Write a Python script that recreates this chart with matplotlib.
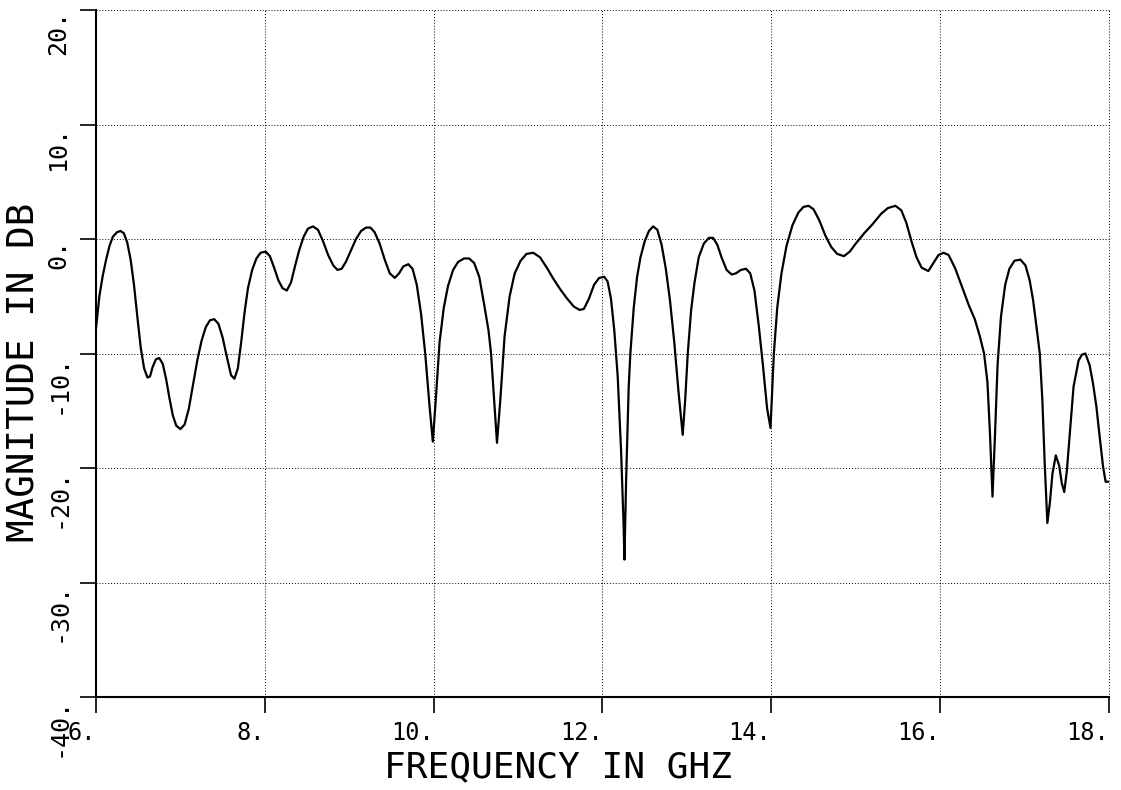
import matplotlib
matplotlib.use("Agg")
import matplotlib.pyplot as plt

# Frequency (GHz) and magnitude (dB)
freq = [6.00, 6.04, 6.08, 6.12, 6.16, 6.20, 6.25, 6.29, 6.33, 6.37, 6.41, 6.45, 6.49, 6.53,
        6.57, 6.61, 6.64, 6.67, 6.71, 6.75, 6.79, 6.83, 6.87, 6.91, 6.95, 7.00, 7.05, 7.10,
        7.15, 7.20, 7.25, 7.30, 7.35, 7.40, 7.45, 7.50, 7.55, 7.60, 7.64, 7.68, 7.72, 7.76,
        7.80, 7.85, 7.90, 7.95, 8.01, 8.06, 8.11, 8.16, 8.21, 8.26, 8.31, 8.36, 8.41, 8.46,
        8.51, 8.57, 8.63, 8.69, 8.75, 8.81, 8.86, 8.91, 8.96, 9.02, 9.08, 9.14, 9.20, 9.25,
        9.30, 9.36, 9.42, 9.48, 9.54, 9.59, 9.64, 9.70, 9.75, 9.80, 9.85, 9.90, 9.95, 9.99,
        10.03, 10.07, 10.12, 10.17, 10.23, 10.29, 10.36, 10.42, 10.48, 10.54, 10.60, 10.65,
        10.68, 10.72, 10.75, 10.79, 10.84, 10.90, 10.96, 11.03, 11.10, 11.18, 11.26, 11.34,
        11.42, 11.50, 11.58, 11.66, 11.73, 11.78, 11.84, 11.90, 11.96, 12.02, 12.06, 12.10,
        12.14, 12.18, 12.22, 12.25, 12.26, 12.28, 12.31, 12.33, 12.37, 12.41, 12.45, 12.50,
        12.55, 12.60, 12.65, 12.70, 12.75, 12.80, 12.85, 12.90, 12.95, 12.98, 13.01, 13.05,
        13.09, 13.14, 13.20, 13.26, 13.31, 13.36, 13.41, 13.47, 13.53, 13.58, 13.64, 13.70,
        13.75, 13.80, 13.85, 13.90, 13.95, 13.99, 14.03, 14.07, 14.12, 14.18, 14.25, 14.32,
        14.38, 14.44, 14.50, 14.57, 14.64, 14.71, 14.78, 14.86, 14.93, 15.00, 15.10, 15.20,
        15.30, 15.38, 15.47, 15.54, 15.60, 15.66, 15.72, 15.78, 15.86, 15.92, 15.98, 16.04,
        16.10, 16.18, 16.26, 16.34, 16.41, 16.47, 16.52, 16.56, 16.59, 16.62, 16.65, 16.68,
        16.72, 16.77, 16.82, 16.88, 16.95, 17.01, 17.06, 17.10, 17.14, 17.18, 17.21, 17.24,
        17.27, 17.30, 17.33, 17.37, 17.41, 17.44, 17.47, 17.50, 17.53, 17.58, 17.64, 17.68,
        17.72, 17.77, 17.81, 17.85, 17.89, 17.93, 17.96, 18.00]

mag_db = [-7.8, -5.0, -3.2, -1.8, -0.6, 0.2, 0.6, 0.7, 0.5, -0.3, -1.8, -4.0, -6.8, -9.5,
          -11.3, -12.1, -12.0, -11.2, -10.5, -10.4, -10.9, -12.2, -13.9, -15.4, -16.3, -16.6, -16.2, -14.8,
          -12.7, -10.6, -8.9, -7.7, -7.1, -7.0, -7.4, -8.6, -10.3, -11.9, -12.2, -11.3, -9.0, -6.4,
          -4.3, -2.7, -1.7, -1.2, -1.1, -1.5, -2.5, -3.6, -4.3, -4.5, -3.8, -2.3, -0.9, 0.2,
          0.9, 1.1, 0.8, -0.2, -1.4, -2.3, -2.7, -2.6, -2.0, -1.0, 0.0, 0.7, 1.0, 1.0,
          0.6, -0.4, -1.8, -3.0, -3.4, -3.0, -2.4, -2.2, -2.6, -4.0, -6.5, -10.0, -14.5, -17.7,
          -13.5, -9.0, -6.0, -4.1, -2.7, -2.0, -1.7, -1.7, -2.1, -3.3, -5.8, -8.0,
          -10.0, -14.5, -17.8, -14.0, -8.5, -5.0, -3.0, -1.9, -1.3, -1.2, -1.6, -2.5,
          -3.5, -4.4, -5.2, -5.9, -6.2, -6.1, -5.2, -4.0, -3.4, -3.3, -3.7, -5.2,
          -8.0, -12.0, -18.5, -25.0, -28.0, -21.0, -13.0, -10.0, -6.0, -3.3, -1.6, -0.2,
          0.7, 1.1, 0.8, -0.5, -2.6, -5.4, -9.0, -13.3, -17.1, -14.0, -10.0, -6.2,
          -3.8, -1.6, -0.4, 0.1, 0.1, -0.5, -1.6, -2.7, -3.1, -3.0, -2.7, -2.6,
          -3.0, -4.5, -7.5, -11.0, -14.8, -16.5, -10.0, -6.0, -3.0, -0.6, 1.2, 2.3,
          2.8, 2.9, 2.6, 1.6, 0.3, -0.7, -1.3, -1.5, -1.1, -0.4, 0.5, 1.3,
          2.2, 2.7, 2.9, 2.5, 1.4, -0.2, -1.6, -2.5, -2.8, -2.1, -1.4, -1.2,
          -1.4, -2.6, -4.2, -5.8, -7.0, -8.5, -10.0, -12.5, -17.0, -22.5, -17.0, -11.0,
          -6.8, -4.0, -2.6, -1.9, -1.8, -2.3, -3.6, -5.3, -7.6, -10.0, -14.0, -19.9,
          -24.8, -23.0, -20.5, -18.9, -19.8, -21.3, -22.1, -20.3, -17.5, -12.9, -10.6, -10.1,
          -10.0, -11.0, -12.6, -14.6, -17.3, -19.9, -21.2, -21.2]

x_ticks = [6, 8, 10, 12, 14, 16, 18]
x_tick_labels = ["6.", "8.", "10.", "12.", "14.", "16.", "18."]
y_ticks = [-40, -30, -20, -10, 0, 10, 20]
y_tick_labels = ["-40.", "-30.", "-20.", "-10.", "0.", "10.", "20."]

W, H = 1121, 790
fig = plt.figure(figsize=(W / 100, H / 100), dpi=100)
left, right, top, bottom = 96, 1109, 10, 697
ax = fig.add_axes([left / W, (H - bottom) / H, (right - left) / W, (bottom - top) / H])

ax.plot(freq, mag_db, color="black", lw=1.6, solid_joinstyle="round")

ax.set_xlim(6, 18)
ax.set_ylim(-40, 20)

for s in ["top", "right"]:
    ax.spines[s].set_visible(False)
for s in ["left", "bottom"]:
    ax.spines[s].set_linewidth(1.5)
    ax.spines[s].set_color("black")

ax.grid(True, which="major", color="black", linestyle=(0, (1, 2)), linewidth=0.7)
for gl in ax.get_xgridlines() + ax.get_ygridlines():
    gl.set_clip_on(False)

mono = "DejaVu Sans Mono"
ax.set_xticks(x_ticks)
ax.set_xticklabels(x_tick_labels, fontfamily=mono, fontsize=17, ha="right")
ax.set_yticks(y_ticks)
ax.set_yticklabels(y_tick_labels, fontfamily=mono, fontsize=18, rotation=90,
                   va="top", ha="right")
ax.tick_params(axis="both", direction="out", length=11.5, width=1.2, color="black")
ax.tick_params(axis="x", pad=6)
ax.tick_params(axis="y", pad=7)

ax.set_xlabel("FREQUENCY IN GHZ", fontfamily=mono, fontsize=26, va="center", ha="center")
ax.xaxis.set_label_coords((558 - left) / (right - left), -(767 - bottom) / (bottom - top))
ax.set_ylabel("MAGNITUDE IN DB", fontfamily=mono, fontsize=27, va="center", ha="center")
ax.yaxis.set_label_coords(-(left - 25) / (right - left), (H - 372 - (H - bottom)) / (bottom - top))

fig.savefig("out.png", dpi=100)
